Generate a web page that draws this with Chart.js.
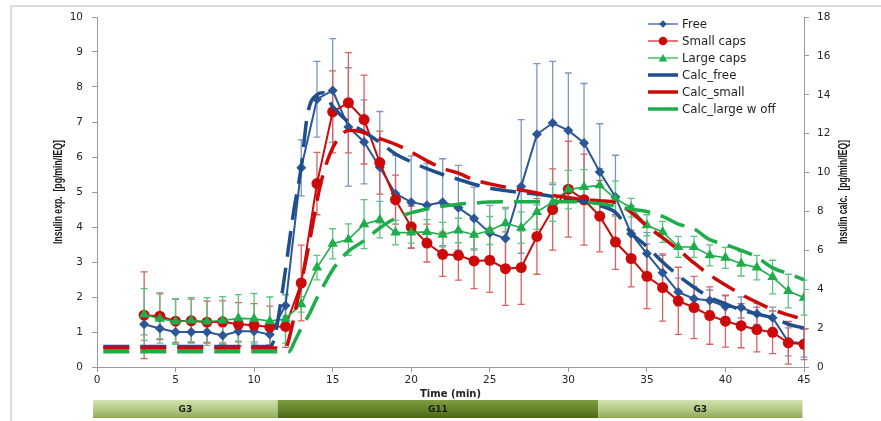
<!DOCTYPE html>
<html>
<head>
<meta charset="utf-8">
<script src="https://cdn.jsdelivr.net/npm/chart.js@4.4.1/dist/chart.umd.min.js"></script>
<style>
html,body{margin:0;padding:0;background:#ffffff;}
#wrap{width:881px;height:421px;position:relative;}
</style>
</head>
<body>
<div id="wrap"><canvas id="c" width="881" height="421"></canvas></div>
<script>
// ---------- DATA ----------
const timeExp = [3,4,5,6,7,8,9,10,11,12,13,14,15,16,17,18,19,20,21,22,23,24,25,26,27,28,29,30,31,32,33,34,35,36,37,38,39,40,41,42,43,44,45];

const freeVals  = [1.22,1.10,1.00,1.00,1.00,0.90,1.02,1.02,0.93,1.76,5.69,7.65,7.90,6.86,6.43,5.71,4.95,4.71,4.62,4.71,4.55,4.24,3.83,3.67,5.16,6.65,6.97,6.76,6.40,5.57,4.86,3.81,3.24,2.69,2.14,1.95,1.90,1.73,1.70,1.52,1.41,0.72,0.68];
const freeSD    = [0.30,0.30,0.30,0.28,0.30,0.25,0.28,0.30,0.30,0.30,0.80,1.08,1.48,1.69,1.20,1.59,1.10,1.32,1.19,1.24,1.21,0.90,0.79,0.85,1.91,2.02,1.76,1.64,1.70,1.38,1.19,0.80,0.60,0.50,0.40,0.35,0.30,0.30,0.30,0.30,0.30,0.40,0.40];

const smallVals = [1.48,1.45,1.31,1.32,1.28,1.29,1.22,1.19,1.14,1.16,2.40,5.24,7.29,7.55,7.07,5.84,4.78,4.00,3.54,3.22,3.19,3.03,3.05,2.81,2.84,3.73,4.50,5.08,4.78,4.31,3.57,3.10,2.59,2.27,1.89,1.70,1.47,1.31,1.18,1.07,0.99,0.69,0.65];
const smallSD   = [1.24,0.67,0.62,0.62,0.60,0.60,0.62,0.62,0.60,0.60,1.08,0.89,1.17,1.43,1.27,0.90,0.70,0.60,0.54,0.63,0.71,0.79,0.92,1.05,1.05,1.08,1.16,1.37,1.30,1.02,0.78,0.81,0.92,0.96,0.96,0.89,0.82,0.74,0.63,0.64,0.61,0.61,0.44];

const largeVals = [1.50,1.38,1.30,1.33,1.30,1.33,1.39,1.38,1.31,1.38,1.79,2.84,3.52,3.64,4.08,4.21,3.84,3.84,3.86,3.78,3.90,3.78,3.90,4.11,3.98,4.43,4.71,5.07,5.14,5.19,4.81,4.55,4.05,3.86,3.43,3.43,3.19,3.12,2.95,2.84,2.57,2.17,1.98];
const largeSD   = [0.74,0.70,0.65,0.65,0.68,0.68,0.68,0.72,0.69,0.70,0.22,0.35,0.43,0.45,0.70,0.52,0.35,0.30,0.35,0.35,0.35,0.40,0.40,0.45,0.45,0.50,0.55,0.55,0.50,0.48,0.50,0.27,0.30,0.30,0.30,0.30,0.30,0.30,0.35,0.35,0.48,0.48,0.50];

const calcFreeT  = [0.4,11,11.3,11.8,12.5,13,13.4,14,14.4,15,16,17,18,19,20,21,22,23,24,25,26,27,28,29,30,31,32,33,34,35,36,37,38,39,40,41,42,43,44,45];
const calcFree   = [1.05,1.05,1.5,3.9,7.9,10.3,13.0,14.0,14.1,13.4,12.6,12.1,11.55,10.95,10.55,10.2,9.9,9.65,9.4,9.2,9.07,8.97,8.88,8.77,8.63,8.5,8.3,7.95,6.9,6.2,5.4,4.7,4.1,3.58,3.25,2.93,2.72,2.53,2.2,2.0];

const calcSmallT = [0.4,12,12.3,12.7,13.3,13.7,14.2,14.8,15.5,16.1,17,18,19,20,21,22,23,24,25,26,27,28,29,30,31,32,33,34,35,36,37,38,39,40,41,42,43,44,44.6];
const calcSmall  = [0.98,0.98,1.7,3.2,5.5,7.2,9.3,10.9,11.9,12.17,12.05,11.75,11.45,11.06,10.6,10.22,9.97,9.62,9.42,9.25,9.1,8.95,8.82,8.72,8.6,8.55,8.45,7.95,7.25,6.65,6.03,5.35,4.73,4.22,3.73,3.33,2.95,2.68,2.54];

const calcLargeT = [0.4,12.2,12.6,13,13.5,14,14.5,15,15.5,16,17,18,19,20,21,22,23,24,25,26,27,28,29,30,31,32,33,34,35,36,37,38,39,40,41,42,43,44,45];
const calcLarge  = [0.78,0.78,1.35,2.0,2.7,3.55,4.3,5.0,5.55,5.95,6.5,7.15,7.65,7.93,8.12,8.27,8.37,8.43,8.48,8.5,8.5,8.5,8.5,8.5,8.48,8.4,8.27,8.12,8.0,7.75,7.35,7.1,6.55,6.3,6.0,5.65,5.1,4.8,4.5];

const seriesLabels = ['Free','Small caps','Large caps','Calc_free','Calc_small','Calc_large w off'];

const phaseLabels = ['G3','G11','G3'];
const phaseStart  = [-0.25, 11.5, 31.9];
const phaseEnd    = [11.5, 31.9, 44.9];

const xTitle  = 'Time (min)';
const yTitle  = 'Insulin exp.  [pg/min/IEQ]';
const y1Title = 'Insulin calc.  [pg/min/IEQ]';

// ---------- CHART ----------
const FONT = "'DejaVu Sans', 'Liberation Sans', sans-serif";
const pts = (ts, vs) => ts.map((t, i) => ({x: t, y: vs[i]}));

const C_FREE = '#2B5797', C_SMALL = '#CC0A0A', C_LARGE = '#1EAD4B';

const datasets = [
  {label: seriesLabels[0], data: pts(timeExp, freeVals), yAxisID: 'y', borderColor: C_FREE, backgroundColor: C_FREE,
   borderWidth: 2, pointStyle: 'rectRot', pointRadius: 5, pointBorderWidth: 0, order: 6,
   errors: freeSD, errColor: '#7F96BC', legendLine: '#5A7DB5', legendMarker: 'diamond'},
  {label: seriesLabels[1], data: pts(timeExp, smallVals), yAxisID: 'y', borderColor: C_SMALL, backgroundColor: C_SMALL,
   borderWidth: 2, pointStyle: 'circle', pointRadius: 5.5, pointBorderWidth: 0, order: 5,
   errors: smallSD, errColor: '#D86262', legendLine: '#E05555', legendMarker: 'circle'},
  {label: seriesLabels[2], data: pts(timeExp, largeVals), yAxisID: 'y', borderColor: C_LARGE, backgroundColor: C_LARGE,
   borderWidth: 1.6, pointStyle: 'triangle', pointRadius: 6, pointBorderWidth: 0, order: 4,
   errors: largeSD, errColor: '#5EC280', legendLine: '#4EC472', legendMarker: 'triangle'},
  {label: seriesLabels[3], data: pts(calcFreeT, calcFree), yAxisID: 'y1', borderColor: '#1F4E8C',
   borderWidth: 3.5, borderDash: [26, 11], pointRadius: 0, cubicInterpolationMode: 'monotone', order: 3,
   legendLine: '#1F4E8C', legendMarker: null},
  {label: seriesLabels[4], data: pts(calcSmallT, calcSmall), yAxisID: 'y1', borderColor: '#CC0A0A',
   borderWidth: 3.5, borderDash: [26, 11], pointRadius: 0, cubicInterpolationMode: 'monotone', order: 2,
   legendLine: '#CC0A0A', legendMarker: null},
  {label: seriesLabels[5], data: pts(calcLargeT, calcLarge), yAxisID: 'y1', borderColor: '#1EAD4B',
   borderWidth: 3.5, borderDash: [26, 11], pointRadius: 0, cubicInterpolationMode: 'monotone', order: 1,
   legendLine: '#1EAD4B', legendMarker: null}
];

function markerPath(ctx, style, x, y, r) {
  ctx.beginPath();
  if (style === 'diamond') {
    ctx.moveTo(x, y - r); ctx.lineTo(x + r, y); ctx.lineTo(x, y + r); ctx.lineTo(x - r, y); ctx.closePath();
  } else if (style === 'circle') {
    ctx.arc(x, y, r, 0, Math.PI * 2);
  } else if (style === 'triangle') {
    ctx.moveTo(x, y - r);
    ctx.lineTo(x + r * Math.sin(Math.PI * 2 / 3), y - r * Math.cos(Math.PI * 2 / 3));
    ctx.lineTo(x - r * Math.sin(Math.PI * 2 / 3), y - r * Math.cos(Math.PI * 2 / 3));
    ctx.closePath();
  }
}

const errorBarPlugin = {
  id: 'errorBars',
  beforeDatasetsDraw(chart) {
    const ctx = chart.ctx;
    const xs = chart.scales.x;
    chart.data.datasets.forEach((ds) => {
      if (!ds.errors) return;
      const ys = chart.scales[ds.yAxisID];
      ctx.save();
      ctx.strokeStyle = ds.errColor;
      ctx.lineWidth = 1.3;
      ds.data.forEach((p, i) => {
        const e = ds.errors[i];
        const x = xs.getPixelForValue(p.x);
        const yTop = ys.getPixelForValue(p.y + e);
        const yBot = ys.getPixelForValue(Math.max(0, p.y - e));
        ctx.beginPath();
        ctx.moveTo(x, yTop); ctx.lineTo(x, yBot);
        ctx.moveTo(x - 3.5, yTop); ctx.lineTo(x + 3.5, yTop);
        ctx.moveTo(x - 3.5, yBot); ctx.lineTo(x + 3.5, yBot);
        ctx.stroke();
      });
      ctx.restore();
    });
  }
};

function drawRotatedFit(ctx, text, cx, cy, targetLen, font, color) {
  ctx.save();
  ctx.font = font;
  const w = ctx.measureText(text).width;
  ctx.translate(cx, cy);
  ctx.rotate(-Math.PI / 2);
  ctx.scale(targetLen / w, 1);
  ctx.fillStyle = color;
  ctx.textAlign = 'center';
  ctx.textBaseline = 'middle';
  ctx.fillText(text, 0, 0);
  ctx.restore();
}

const decorPlugin = {
  id: 'decor',
  afterDraw(chart) {
    const ctx = chart.ctx;
    const xs = chart.scales.x;
    const ca = chart.chartArea;

    // outer frame
    ctx.save();
    ctx.strokeStyle = '#DADADA';
    ctx.lineWidth = 2;
    ctx.beginPath();
    ctx.moveTo(11, 421); ctx.lineTo(11, 6); ctx.lineTo(881, 6);
    ctx.stroke();
    ctx.restore();

    // axis titles
    const midY = (ca.top + ca.bottom) / 2;
    drawRotatedFit(ctx, yTitle, 58.5, midY, 104, "bold 12.5px 'Liberation Sans', sans-serif", '#1a1a1a');
    drawRotatedFit(ctx, y1Title, 843.5, midY, 104, "bold 12.5px 'Liberation Sans', sans-serif", '#1a1a1a');

    ctx.save();
    ctx.font = "bold 10px " + FONT;
    ctx.fillStyle = '#222';
    ctx.textAlign = 'center';
    ctx.textBaseline = 'middle';
    ctx.fillText(xTitle, (ca.left + ca.right) / 2, 394);
    ctx.restore();

    // phase bar
    const top = 400, bot = 418;
    phaseLabels.forEach((lab, i) => {
      const x0 = xs.getPixelForValue(phaseStart[i]);
      const x1 = xs.getPixelForValue(phaseEnd[i]);
      const g = ctx.createLinearGradient(0, top, 0, bot);
      if (lab === 'G11') {
        g.addColorStop(0, '#7E9E40'); g.addColorStop(0.5, '#66852B'); g.addColorStop(1, '#4B6619');
      } else {
        g.addColorStop(0, '#D2E1AE'); g.addColorStop(0.5, '#B4CB86'); g.addColorStop(1, '#8FA95C');
      }
      ctx.fillStyle = g;
      ctx.fillRect(x0, top, x1 - x0, bot - top);
      ctx.save();
      ctx.font = "bold 9px " + FONT;
      ctx.fillStyle = '#1c1c1c';
      ctx.textAlign = 'center';
      ctx.textBaseline = 'middle';
      ctx.fillText(lab, (x0 + x1) / 2, (top + bot) / 2 + 0.5);
      ctx.restore();
    });

    // legend
    const lx0 = 648, lx1 = 678, tx = 682, y0 = 24, dy = 17;
    chart.data.datasets.forEach((ds, i) => {
      const y = y0 + i * dy;
      ctx.save();
      ctx.strokeStyle = ds.legendLine;
      ctx.lineWidth = ds.legendMarker ? 1.6 : 3.5;
      ctx.beginPath(); ctx.moveTo(lx0, y); ctx.lineTo(lx1, y); ctx.stroke();
      if (ds.legendMarker) {
        const r = ds.legendMarker === 'diamond' ? 3.8 : (ds.legendMarker === 'circle' ? 4.3 : 5);
        markerPath(ctx, ds.legendMarker, (lx0 + lx1) / 2, ds.legendMarker === 'triangle' ? y + 1 : y, r);
        ctx.fillStyle = ds.backgroundColor;
        ctx.fill();
      }
      ctx.font = "11.8px " + FONT;
      ctx.fillStyle = '#1f1f1f';
      ctx.textAlign = 'left';
      ctx.textBaseline = 'middle';
      ctx.fillText(ds.label, tx, y + 0.5);
      ctx.restore();
    });
  }
};

const tickFont = {family: FONT, size: 10.5};

new Chart(document.getElementById('c'), {
  type: 'line',
  data: {datasets},
  options: {
    responsive: false,
    animation: false,
    devicePixelRatio: 1,
    layout: {padding: {top: 17, left: 0, right: 0, bottom: 0}},
    plugins: {legend: {display: false}, tooltip: {enabled: false}},
    elements: {line: {tension: 0}},
    scales: {
      x: {
        type: 'linear', min: 0, max: 45,
        ticks: {stepSize: 5, font: tickFont, color: '#262626', padding: 2, maxRotation: 0},
        grid: {drawOnChartArea: false, drawTicks: true, tickLength: 5, color: '#9A9A9A'},
        border: {display: true, color: '#9A9A9A'},
        afterFit(s) { s.height = 54; }
      },
      y: {
        position: 'left', min: 0, max: 10,
        ticks: {stepSize: 1, font: tickFont, color: '#262626', padding: 9},
        grid: {drawOnChartArea: false, drawTicks: true, tickLength: 5, color: '#9A9A9A'},
        border: {display: true, color: '#9A9A9A'},
        afterFit(s) { s.width = 97; }
      },
      y1: {
        position: 'right', min: 0, max: 18,
        ticks: {stepSize: 2, font: tickFont, color: '#262626', padding: 8},
        grid: {drawOnChartArea: false, drawTicks: true, tickLength: 5, color: '#9A9A9A'},
        border: {display: true, color: '#9A9A9A'},
        afterFit(s) { s.width = 77; }
      }
    }
  },
  plugins: [errorBarPlugin, decorPlugin]
});
</script>
</body>
</html>
